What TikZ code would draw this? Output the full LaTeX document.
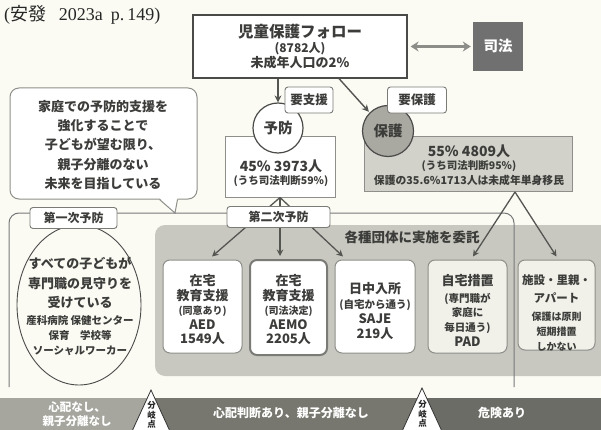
\documentclass[tikz,border=0pt]{standalone}
\usepackage{fontspec}
\setmainfont{Noto Sans CJK JP}
\newfontfamily\citeserif{Liberation Serif}
\usetikzlibrary{arrows.meta,shapes.geometric,calc}
\definecolor{bgc}{HTML}{FBFBF4}
\definecolor{txtc}{HTML}{3C3C3A}
\definecolor{darkline}{HTML}{4A4A48}
\definecolor{boxb}{HTML}{8E8E8A}
\definecolor{framec}{HTML}{77777A}
\definecolor{arrc}{HTML}{555552}
\definecolor{dblc}{HTML}{8C8C88}
\definecolor{grayarea}{HTML}{C8C8C0}
\definecolor{hogoc}{HTML}{A9A9A1}
\definecolor{hogoboxc}{HTML}{D2D2CA}
\definecolor{shihoc}{HTML}{707070}
\definecolor{lightbox}{HTML}{F1F1EA}
\definecolor{aemoc}{HTML}{7A7A76}
\definecolor{barL}{HTML}{A6A69F}
\definecolor{barM}{HTML}{77776F}
\definecolor{barR}{HTML}{6C6C66}
\newcommand\myfs[2]{\fontsize{#1}{#2}\selectfont}
\begin{document}
\begin{tikzpicture}[x=1pt,y=-1pt,
  txt/.style={text=txtc, inner sep=0pt, align=center},
  bt/.style={txt},
  lblbox/.style={draw=aemoc, fill=white, rounded corners=3pt, line width=0.9pt, inner sep=0pt, text=txtc, font=\bfseries\myfs{12.5}{15}},
  childbox/.style={draw=boxb, fill=white, rounded corners=7pt, line width=1pt, inner sep=0pt, minimum width=79pt, minimum height=93pt},
  conn/.style={draw=arrc, line width=1.4pt, -{Stealth[length=7pt,width=7pt]}},
  conntwo/.style={draw=arrc, line width=1.3pt, -{Stealth[length=6.5pt,width=6.5pt]}},
  dblarrow/.style={draw=dblc, line width=2.4pt, {Stealth[length=8pt,width=10pt]}-{Stealth[length=8pt,width=10pt]}}
]
% background and bounds
\fill[bgc] (0,0) rectangle (601,430);
\useasboundingbox (0,0) rectangle (601,430);
\clip (0,0) rectangle (601,430);

% citation
\node[txt, text=black!85, font=\myfs{18}{20}, anchor=west] (cite) at (4,15) {{\citeserif(}安發{\citeserif\hspace{0.7em}2023a\hspace{0.45em}p.\,149)}};

% top box
\node[draw=darkline, fill=white, line width=1.2pt, minimum width=214pt, minimum height=63pt] (top) at (300,46.5) {};
\node[bt, font=\bfseries\myfs{15.5}{17}] (t1) at (300,32) {児童保護フォロー};
\node[bt, font=\bfseries\myfs{12}{14}] (t2) at (300,49) {(8782人)};
\node[bt, font=\bfseries\myfs{13}{15}] (t3) at (300,63) {未成年人口の2\%};

% 司法
\node[fill=shihoc, minimum width=50pt, minimum height=49pt, inner sep=0pt, text=white, font=\bfseries\myfs{14.5}{16}] (shiho) at (498,46.5) {司法};
\draw[dblarrow, shorten <=3pt, shorten >=2pt] (top.east) -- (shiho.west);

% callout
\node[draw=boxb, fill=white, rounded corners=9pt, line width=1pt, minimum width=187pt, minimum height=111pt] (callout) at (103.5,143.5) {};
\coordinate (tipc) at (175,213);
\coordinate (ta) at ($(callout.south west)+(150,0)$);
\coordinate (tb) at ($(callout.south west)+(168,0)$);
\fill[white] ([yshift=1.5pt]ta) -- (tipc) -- ([yshift=1.5pt]tb) -- cycle;
\draw[boxb, line width=1pt] (ta) -- (tipc) -- (tb);
\node[bt, font=\bfseries\myfs{13}{19.2}] (ctext) at (103,145) {家庭での予防的支援を\\強化することで\\子どもが望む限り、\\親子分離のない\\未来を目指している};

% stat boxes
\node[draw=boxb, fill=white, line width=1pt, minimum width=110pt, minimum height=60pt] (yobox) at (280,167) {};
\node[draw=boxb, fill=hogoboxc, line width=1pt, minimum width=208pt, minimum height=55pt] (hogobox) at (468,164) {};
\node[bt, font=\bfseries\myfs{14}{16}] (y1) at (281,166) {45\% 3973人};
\node[bt, font=\bfseries\myfs{10.5}{12}] (y2) at (281,181) {(うち司法判断59\%)};
\node[bt, font=\bfseries\myfs{14}{16}] (h1) at (469,151) {55\% 4809人};
\node[bt, font=\bfseries\myfs{10.5}{12}] (h2) at (469,166) {(うち司法判断95\%)};
\node[bt, font=\bfseries\myfs{10.8}{12}] (h3) at (469,180) {保護の35.6\%1713人は未成年単身移民};

% circles
\node[circle, draw=darkline, fill=white, line width=1.2pt, minimum size=50pt, inner sep=0pt, font=\bfseries\myfs{14.5}{16}, text=txtc] (yobou) at (278,128) {予防};
\node[circle, draw=darkline, fill=hogoc, line width=1.2pt, minimum size=51pt, inner sep=0pt, font=\bfseries\myfs{14.5}{16}, text=txtc] (hogo) at (388,131) {保護};

% labels
\node[lblbox, minimum width=48pt, minimum height=26pt] (yoshien) at (309,100) {要支援};
\node[lblbox, minimum width=59pt, minimum height=26pt] (yohogo) at (417,100) {要保護};

% connectors from top box
\draw[conn] (top.south -| yobou.north) -- (yobou.north);
\draw[conn, shorten >=1pt] ([xshift=39pt]top.south) -- (hogo.north west);

% gray area
\fill[grayarea, rounded corners=10pt] (155,225) rectangle (610,376);

% frame
\coordinate (fbl) at (9,387);
\coordinate (ftl) at (9,213);
\coordinate (ftr) at (514,213);
\coordinate (fbr) at (514,387);
\draw[framec, line width=1pt, rounded corners=10pt] (fbl) -- (ftl) -- (ftr) -- (fbr);

% ellipse
\node[ellipse, draw=darkline, line width=0.9pt, minimum width=124pt, minimum height=160pt, inner sep=0pt] (ell) at (79,305) {};
\node[bt, font=\bfseries\myfs{13}{19.5}] (e1) at (80,283) {すべての子どもが\\専門職の見守りを\\受けている};
\node[bt, font=\bfseries\myfs{10.5}{15}] (e2) at (80,335.5) {産科病院 保健センター\\保育\quad 学校等\\ソーシャルワーカー};

% child boxes
\node[childbox] (aed) at (202.5,306.5) {};
\node[childbox, draw=aemoc, line width=2pt, minimum width=77pt, minimum height=95pt] (aemo) at (288.5,307.5) {};
\node[childbox, minimum width=80pt] (saje) at (375,306.5) {};
\node[childbox, fill=lightbox] (pad) at (467.5,306.5) {};
\node[childbox, fill=lightbox, minimum width=77pt, minimum height=90pt] (shisetsu) at (556.5,305) {};

\node[bt, font=\bfseries\myfs{13}{14.5}] (aedt) at (202.5,309.5) {在宅\\教育支援\\{\myfs{10}{14.5}(同意あり)}\\AED\\1549人};
\node[bt, font=\bfseries\myfs{13}{14.5}] (aemot) at (288.5,309.5) {在宅\\教育支援\\{\myfs{10}{14.5}(司法決定)}\\AEMO\\2205人};
\node[bt, font=\bfseries\myfs{13}{15}] (sajet) at (375,311) {日中入所\\{\myfs{10.5}{15}(自宅から通う)}\\SAJE\\219人};
\node[bt, font=\bfseries\myfs{13}{14.5}] (padt) at (467.5,310.5) {自宅措置\\[2pt]{\myfs{10.5}{14.5}(専門職が}\\{\myfs{10.5}{14.5}家庭に}\\{\myfs{10.5}{14.5}毎日通う)}\\[1pt]PAD};
\node[bt, font=\bfseries\myfs{11.5}{15}] (shisetsut) at (556.5,313) {施設・里親・\\[3pt]アパート\\[3pt]{\myfs{10}{15}保護は原則}\\{\myfs{10}{15}短期措置}\\{\myfs{10}{15}しかない}};

\node[bt, font=\bfseries\myfs{13.5}{15}] (itaku) at (412,237) {各種団体に実施を委託};

% tier 2 connectors
\coordinate (hapex) at ($(hogobox.south)+(47,0)$);
\draw[conntwo] (yobox.south) -- ($(aed.north)+(9.5,-3)$);
\draw[conntwo] (yobox.south) -- ($(yobox.south |- aemo.north)+(0,-3)$);
\draw[conntwo] (yobox.south) -- ($(saje.north)+(-32,-3)$);
\draw[conntwo] (hapex) -- ($(pad.north)+(5.5,-3)$);
\draw[conntwo] (hapex) -- ($(shisetsu.north)+(0,-3)$);

% tier labels
\node[lblbox, minimum width=87pt, minimum height=21pt, font=\bfseries\myfs{12}{14}] (tier1) at (73.5,218) {第一次予防};
\node[lblbox, minimum width=103pt, minimum height=21pt, font=\bfseries\myfs{12}{14}] (tier2) at (278.5,217) {第二次予防};

% bottom bar
\fill[barL] (0,398) rectangle (152,431);
\fill[barM] (152,398) rectangle (422,431);
\fill[barR] (422,398) rectangle (601,431);
\node[txt, text=white, font=\bfseries\myfs{11.5}{14}] (bar1) at (77,414) {心配なし、\\親子分離なし};
\node[txt, text=white, font=\bfseries\myfs{12}{14}] (bar2) at (291,413) {心配判断あり、親子分離なし};
\node[txt, text=white, font=\bfseries\myfs{12}{14}] (bar3) at (502,413) {危険あり};

\coordinate (bone) at (151,390);
\coordinate (bonel) at (128,440);
\coordinate (boner) at (174,440);
\draw[fill=white, draw=black!80, line width=0.8pt] (bone) -- (bonel) -- (boner) -- cycle;
\coordinate (btwo) at (422,388);
\coordinate (btwol) at (398,440);
\coordinate (btwor) at (446,440);
\draw[fill=white, draw=black!80, line width=0.8pt] (btwo) -- (btwol) -- (btwor) -- cycle;
\node[txt, text=black!85, font=\bfseries\myfs{8.5}{9.3}] (bunki1) at (151.5,415) {分\\岐\\点};
\node[txt, text=black!85, font=\bfseries\myfs{8.5}{9.3}] (bunki2) at (422.5,414) {分\\岐\\点};
\end{tikzpicture}
\end{document}
